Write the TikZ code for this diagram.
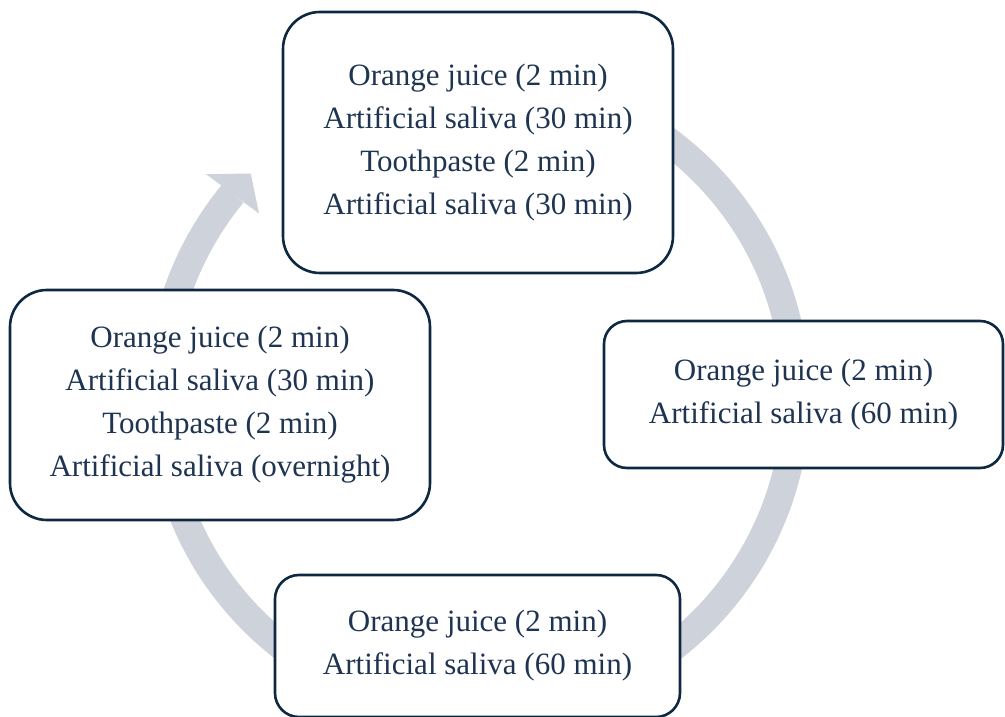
\documentclass[tikz,border=0pt]{standalone}
\usepackage{fontspec}
\setmainfont{Liberation Serif}
\usetikzlibrary{calc}
\definecolor{ringgray}{RGB}{206,211,219}
\definecolor{boxline}{RGB}{14,40,66}
\definecolor{boxtext}{RGB}{30,52,80}
\begin{document}
\begin{tikzpicture}[x=1pt,y=1pt,
  cyclebox/.style={draw=boxline, fill=white, line width=2.6pt, text=boxtext,
    align=center, inner sep=0pt, font=\fontsize{31}{43}\selectfont},
  ringline/.style={draw=ringgray, line width=28pt, line cap=butt}]
\useasboundingbox (0,0) rectangle (1005,716);
% ring centre
\coordinate (c) at (478,320);
% circular arrow
\draw[ringline] ($(c)+(460:318)$) arc[start angle=460, end angle=140.5, radius=318];
\fill[ringgray] ($(c)+(135.6:318)$) -- ($(c)+(140.8:351)$) -- ($(c)+(140.2:285)$) -- cycle;
% boxes
\node[cyclebox, minimum width=390pt, minimum height=261pt, rounded corners=37pt] (top) at (478,573.5)
  {Orange juice (2 min)\\Artificial saliva (30 min)\\Toothpaste (2 min)\\Artificial saliva (30 min)};
\node[cyclebox, minimum width=399pt, minimum height=147pt, rounded corners=23pt] (right) at (803.5,321.5)
  {Orange juice (2 min)\\Artificial saliva (60 min)};
\node[cyclebox, minimum width=405pt, minimum height=142pt, rounded corners=24pt] (bottom) at (477.5,70)
  {Orange juice (2 min)\\Artificial saliva (60 min)};
\node[cyclebox, minimum width=420pt, minimum height=230pt, rounded corners=37pt] (left) at (220,311)
  {Orange juice (2 min)\\Artificial saliva (30 min)\\Toothpaste (2 min)\\Artificial saliva (overnight)};
\end{tikzpicture}
\end{document}
